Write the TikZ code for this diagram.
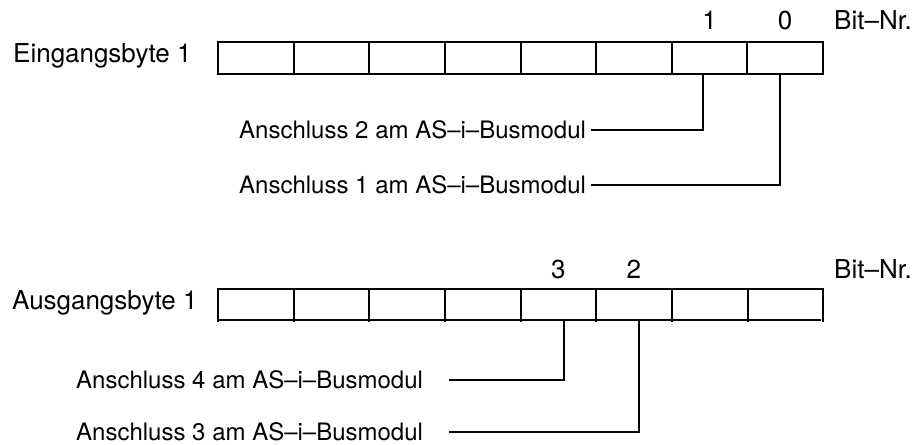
\documentclass[tikz,border=0pt]{standalone}
\usepackage{fontspec}
\setmainfont{TeX Gyre Heros}
\tikzset{
  lbl/.style={inner sep=0pt, font=\fontsize{26}{30}\selectfont},
  conn/.style={inner sep=0pt, anchor=west, font=\fontsize{24}{28}\selectfont},
  incell/.style={draw, line width=2pt, minimum width=75.625pt, minimum height=32pt, inner sep=0pt},
  outcell/.style={minimum width=75.625pt, minimum height=33pt, inner sep=0pt},
  wire/.style={line width=2pt},
}
\begin{document}
\begin{tikzpicture}[x=1pt,y=-1pt]
\useasboundingbox (0,0) rectangle (917,444);
% ---- Eingangsbyte ----
\node[lbl, anchor=base west] (inlabel) at (13,63) {Eingangsbyte 1};
\foreach \i in {1,...,8}
  \node[incell] (e\i) at ({218+75.625*(\i-0.5)},58) {};
\node[lbl, anchor=base] (b1) at (e7.center |- 0,30) {1};
\node[lbl, anchor=base] (b0) at (e8.center |- 0,30) {0};
\node[lbl, anchor=base west] (bitin) at (834,30) {Bit–Nr.};
\node[conn] (inA2) at (239,130) {Anschluss 2 am AS–i–Busmodul};
\node[conn] (inA1) at (239,185) {Anschluss 1 am AS–i–Busmodul};
\draw[wire] ([xshift=5pt]inA2.east) -| ([xshift=-6.5pt]e7.south);
\draw[wire] ([xshift=5pt]inA1.east) -| ([xshift=-5.5pt]e8.south);
% ---- Ausgangsbyte ----
\node[lbl, anchor=base west] (outlabel) at (12,309) {Ausgangsbyte 1};
\foreach \i in {1,...,8}
  \node[outcell] (a\i) at ({218+75.625*(\i-0.5)},305.5) {};
\draw[wire] (a1.south west) -- (a1.north west) -- (a8.north east) -- (a8.south east);
\foreach \i in {1,...,7}
  \draw[wire] (a\i.north east) -- (a\i.south east);
\coordinate (bl) at ([yshift=2.5pt]a1.south west);
\coordinate (br) at ([xshift=-2pt,yshift=2.5pt]a8.south east);
\draw[wire] ([xshift=-1pt]bl) -- (br);
\node[lbl, anchor=base] (b3) at (a5.center |- 0,278) {3};
\node[lbl, anchor=base] (b2) at (a6.center |- 0,278) {2};
\node[lbl, anchor=base west] (bitout) at (834,278) {Bit–Nr.};
\node[conn] (outA4) at (76,380) {Anschluss 4 am AS–i–Busmodul};
\node[conn] (outA3) at (76,431.5) {Anschluss 3 am AS–i–Busmodul};
\draw[wire] ([xshift=26pt]outA4.east) -| ([xshift=6pt,yshift=2.5pt]a5.south);
\draw[wire] ([xshift=26pt]outA3.east) -| ([xshift=5pt,yshift=2.5pt]a6.south);
\end{tikzpicture}
\end{document}
